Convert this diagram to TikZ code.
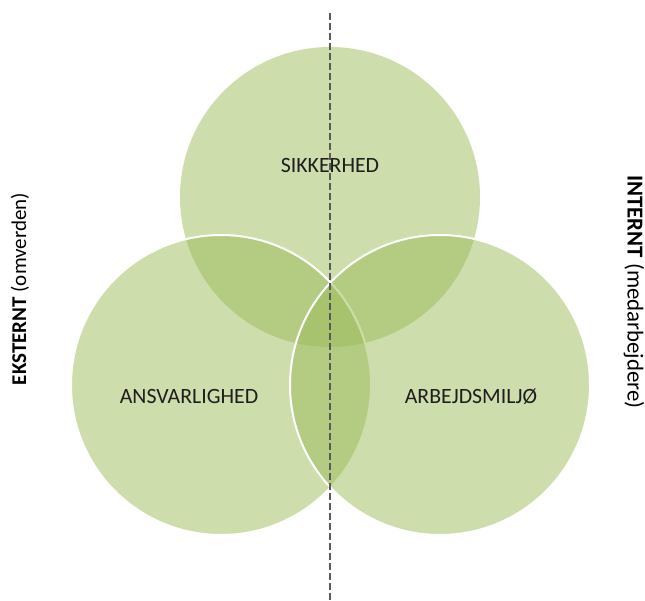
\documentclass[tikz,border=0pt]{standalone}
\usepackage{fontspec}
\setmainfont{Carlito}
\definecolor{vgreen}{HTML}{9BBB59}
\definecolor{txt}{HTML}{1E1E1E}
\definecolor{dashgray}{HTML}{5A5A5A}
\begin{document}
\begin{tikzpicture}[x=1pt,y=-1pt,
  venn/.style={circle, minimum size=300pt, inner sep=0pt, fill=vgreen, fill opacity=0.5},
  vennb/.style={venn, draw=white, line width=2pt},
  lbl/.style={text=txt, font=\fontsize{21.8}{26}\selectfont},
  side/.style={text=black, font=\fontsize{21}{25}\selectfont, inner sep=0pt}]
\useasboundingbox (0,0) rectangle (645,601);
\node[venn] (top) at (330,197) {};
\node[vennb] (left) at (221,385) {};
\node[vennb] (right) at (440,385) {};
\coordinate (dtop) at (330,13);
\coordinate (dbot) at (330,601);
\draw[dashgray, line width=2.4pt, dash pattern=on 7pt off 3pt] (dtop) -- (dbot);
\node[lbl] (sik) at (330,166) {SIKKERHED};
\node[lbl] (ans) at (189,397) {ANSVARLIGHED};
\node[lbl] (arb) at (471,397) {ARBEJDSMILJØ};
\node[side, rotate=90] (ext) at (20,289) {\textbf{EKSTERNT} (omverden)};
\node[side, rotate=-90, font=\fontsize{22.8}{27}\selectfont] (int) at (634,292) {\textbf{INTERNT} (medarbejdere)};
\end{tikzpicture}
\end{document}
